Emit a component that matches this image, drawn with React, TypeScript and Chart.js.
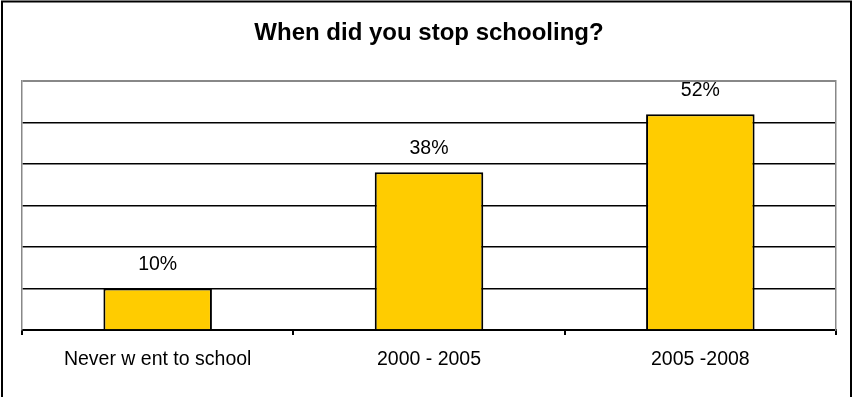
import React, { useEffect, useRef } from "react";
import { Chart, registerables } from "chart.js";

Chart.register(...registerables);

const titleText = "When did you stop schooling?";
const categories = ["Never w ent to school", "2000 - 2005", "2005 -2008"];
const percentValues = [10, 38, 52];
const yMin = 0;
const yMax = 60;
const yStep = 10;

const FONT = "'Liberation Sans', Arial, sans-serif";
const LABEL_SIZE = 19.5;
const TITLE_SIZE = 24;

const frameAndLabels = {
  id: "frameAndLabels",
  beforeDraw(chart: any) {
    const ctx = chart.ctx;
    ctx.save();
    ctx.fillStyle = "#ffffff";
    ctx.fillRect(0, 0, chart.width, chart.height);
    ctx.strokeStyle = "#000000";
    ctx.lineWidth = 2;
    ctx.beginPath();
    ctx.moveTo(2, chart.height + 5);
    ctx.lineTo(2, 1.5);
    ctx.lineTo(chart.width - 1, 1.5);
    ctx.lineTo(chart.width - 1, chart.height + 5);
    ctx.stroke();
    ctx.restore();
  },
  afterDatasetsDraw(chart: any) {
    const ctx = chart.ctx;
    const meta = chart.getDatasetMeta(0);
    ctx.save();
    ctx.fillStyle = "#000000";
    ctx.font = `${LABEL_SIZE}px ${FONT}`;
    ctx.textAlign = "center";
    ctx.textBaseline = "middle";
    meta.data.forEach((bar: any, i: number) => {
      ctx.fillText(`${percentValues[i]}%`, bar.x, bar.y - 23.5);
    });
    ctx.restore();
  },
};

export default function App() {
  const canvasRef = useRef<HTMLCanvasElement | null>(null);

  useEffect(() => {
    document.body.style.margin = "0";
    const canvas = canvasRef.current;
    if (!canvas) return;
    const chart = new Chart(canvas, {
      type: "bar",
      data: {
        labels: categories,
        datasets: [
          {
            data: percentValues,
            backgroundColor: "#FFCC00",
            borderColor: "#000000",
            borderWidth: 2,
            categoryPercentage: 1,
            barPercentage: 0.4,
          },
        ],
      },
      options: {
        animation: false,
        responsive: false,
        maintainAspectRatio: false,
        devicePixelRatio: 1,
        layout: { padding: { left: 22, right: 16, top: 0, bottom: 0 } },
        plugins: {
          legend: { display: false },
          tooltip: { enabled: false },
          title: {
            display: true,
            text: titleText,
            color: "#000000",
            font: { family: FONT, size: TITLE_SIZE, weight: "bold" },
            padding: { top: 18.6, bottom: 33.6 },
          },
        },
        scales: {
          x: {
            offset: true,
            afterFit: (s: any) => {
              s.height = 67;
            },
            border: { display: true, color: "#000000", width: 2 },
            grid: {
              offset: true,
              drawOnChartArea: false,
              drawTicks: true,
              tickLength: 5,
              color: "#000000",
              lineWidth: 2,
            },
            ticks: {
              color: "#000000",
              font: { family: FONT, size: LABEL_SIZE },
              padding: 13.3,
              maxRotation: 0,
            },
          },
          y: {
            min: yMin,
            max: yMax,
            afterFit: (s: any) => {
              s.width = 0;
            },
            border: { display: true, color: "#888888", width: 1.5 },
            grid: {
              drawTicks: false,
              color: (c: any) =>
                c.tick && c.tick.value === yMax
                  ? "#888888"
                  : c.tick && c.tick.value === yMin
                  ? "rgba(0,0,0,0)"
                  : "#000000",
              lineWidth: (c: any) => (c.tick && c.tick.value === yMax ? 2 : 1.5),
            },
            ticks: { display: false, stepSize: yStep },
          },
          y2: {
            position: "right",
            min: yMin,
            max: yMax,
            afterFit: (s: any) => {
              s.width = 0;
            },
            border: { display: true, color: "#888888", width: 1.5 },
            grid: { drawOnChartArea: false, drawTicks: false },
            ticks: { display: false, stepSize: yStep },
          },
        },
      } as any,
      plugins: [frameAndLabels],
    });
    return () => chart.destroy();
  }, []);

  return (
    <div style={{ width: 852, height: 397 }}>
      <canvas ref={canvasRef} width={852} height={397} style={{ display: "block" }} />
    </div>
  );
}
